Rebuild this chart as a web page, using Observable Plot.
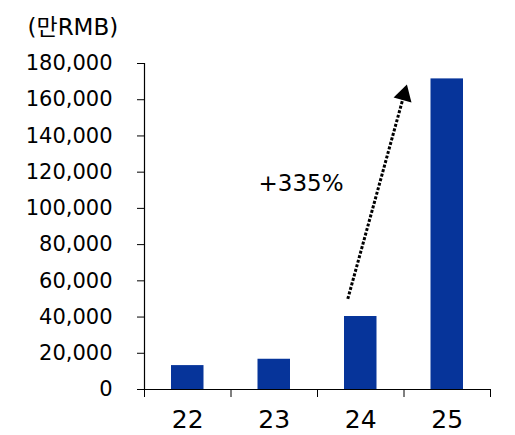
<!DOCTYPE html>
<html>
<head>
<meta charset="utf-8">
<script src="https://cdn.jsdelivr.net/npm/d3@7"></script>
<script src="https://cdn.jsdelivr.net/npm/@observablehq/plot@0.6"></script>
<style>
  body { margin: 0; background: #fff; }
</style>
</head>
<body>
<div id="chart"></div>
<script>
// revenue by year, 만RMB
const years = [22, 23, 24, 25];
const revenue = [13200, 16700, 40300, 171500];
const yTicks = [0, 20000, 40000, 60000, 80000, 100000, 120000, 140000, 160000, 180000];
const xBoundaries = [21.5, 22.5, 23.5, 24.5, 25.5];
const unitLabel = "(만RMB)";

// growth annotation 24 -> 25
const growthLabel = "+335%";
const growthText = [{x: 23.31, y: 113700}];
const growthArrow = [{x1: 23.85, y1: 50000, x2: 24.5, y2: 162700}];

const data = years.map((year, i) => ({year, value: revenue[i]}));

const BAR = "#06349a";

const plot = Plot.plot({
  width: 515,
  height: 435,
  marginTop: 63,
  marginLeft: 144,
  marginRight: 25,
  marginBottom: 46,
  style: {fontFamily: "DejaVu Sans, Noto Sans CJK KR, sans-serif", fontSize: "21px", color: "#000", background: "#fff"},
  x: {type: "linear", domain: [21.5, 25.5]},
  y: {domain: [0, 180000]},
  marks: [
    Plot.rectY(data, {
      x1: (d) => d.year - 0.5,
      x2: (d) => d.year + 0.5,
      y: "value",
      fill: BAR,
      insetLeft: 27,
      insetRight: 27
    }),
    Plot.axisY({ticks: yTicks, tickSize: 7, tickPadding: 25, fontSize: 21, label: null, tickFormat: d3.format(",")}),
    Plot.axisX({ticks: xBoundaries, tickSize: 8, tickFormat: () => "", label: null}),
    Plot.axisX({ticks: years, tickSize: 0, tickPadding: 21, fontSize: 25, label: null, tickFormat: (d) => String(d)}),
    Plot.ruleX([21.5], {stroke: "#000", strokeWidth: 1.2}),
    Plot.ruleY([0], {stroke: "#000", strokeWidth: 1.2}),
    Plot.link(growthArrow, {
      x1: "x1", y1: "y1", x2: "x2", y2: "y2",
      stroke: "#000",
      strokeWidth: 3,
      strokeDasharray: "3,1.7"
    }),
    Plot.dot(growthArrow, {
      x: "x2", y: "y2",
      symbol: "triangle",
      r: 6.9,
      fill: "#000",
      stroke: "none",
      rotate: 15.7
    }),
    Plot.text(growthText, {
      x: "x", y: "y",
      text: () => growthLabel,
      fontSize: 23,
      textAnchor: "middle",
      lineAnchor: "middle",
      fill: "#000"
    }),
    Plot.text([unitLabel], {
      frameAnchor: "top-left",
      textAnchor: "start",
      lineAnchor: "middle",
      dx: -117,
      dy: -36,
      fontSize: 23,
      fill: "#000"
    })
  ]
});

document.getElementById("chart").append(plot);
</script>
</body>
</html>
